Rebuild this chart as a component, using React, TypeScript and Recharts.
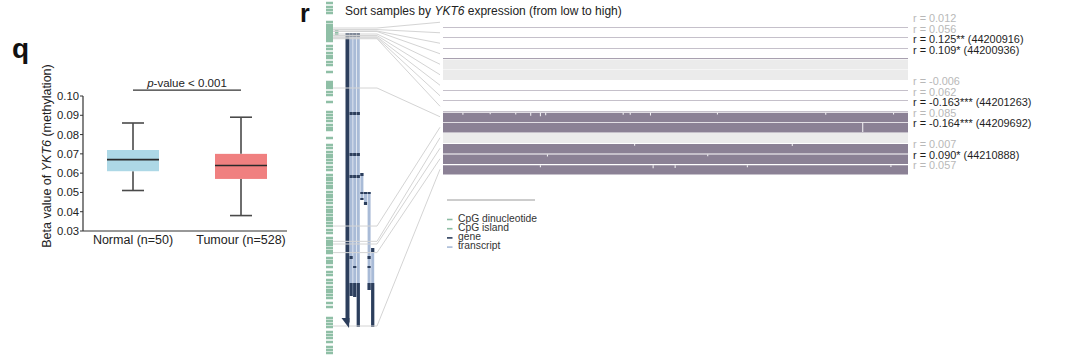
import React from 'react';
import { ComposedChart, Bar, XAxis, YAxis, ReferenceLine, ReferenceArea, Scatter } from 'recharts';

const FONT = '"Liberation Sans", Arial, Helvetica, sans-serif';

// ---------------- Panel q : box plot data ----------------
const BOX_GROUPS = ['Normal (n=50)', 'Tumour (n=528)'];
const BOX_MIN = [0.051, 0.038];
const BOX_Q1 = [0.061, 0.057];
const BOX_MEDIAN = [0.067, 0.064];
const BOX_Q3 = [0.072, 0.07];
const BOX_MAX = [0.086, 0.089];
const BOX_FILLS = ['#add8e6', '#f08080'];
const Q_TICKS = [0.03, 0.04, 0.05, 0.06, 0.07, 0.08, 0.09, 0.1];
const Q_DOMAIN = [0.03, 0.1];
const P_BAR_Y = 0.103;
const P_TEXT = '-value < 0.001';

// ---------------- Panel r : genome track data ----------------
const GENOME_START = 44199520;
const GENOME_END = 44215585;
const CPG_POSITIONS = [
  44199655, 44199835, 44199970, 44200105, 44200510, 44200645, 44200735, 44200825,
  44200915, 44201005, 44201095, 44201185, 44201275, 44201365, 44201590, 44201725,
  44201905, 44202040, 44202130, 44202310, 44202445, 44202760, 44203210, 44203300,
  44203390, 44203480, 44203660, 44203795, 44204110, 44204560, 44204695, 44204830,
  44204965, 44205145, 44205280, 44205370, 44205730, 44206045, 44206180, 44206360,
  44206495, 44206585, 44206720, 44206855, 44207035, 44207170, 44207395, 44207530,
  44207620, 44207755, 44207890, 44207980, 44208160, 44208295, 44208385, 44208520,
  44208655, 44208835, 44208970, 44209060, 44209195, 44209330, 44209420, 44209555,
  44209690, 44209870, 44210005, 44210230, 44210365, 44210455, 44210545, 44210680,
  44210815, 44210905, 44211130, 44211265, 44211355, 44211535, 44211760, 44211895,
  44212120, 44212255, 44212435, 44212570, 44212660, 44212795, 44212930, 44213155,
  44213335, 44213830, 44213965, 44214100, 44214235, 44214460, 44214595, 44214730,
  44214910, 44215135, 44215270, 44215405,
];
const CPG_ISLAND = [44200870, 44201095];
const GENE = [44201005, 44214235];
const TRANSCRIPTS = [
  { start: 44201005, end: 44212840, exons: [[44201005, 44201185], [44204560, 44204695], [44206405, 44206540], [44207395, 44207530], [44211040, 44211175], [44212255, 44212840]] },
  { start: 44201005, end: 44212885, exons: [[44201005, 44201185], [44204560, 44204695], [44206405, 44206540], [44207395, 44207530], [44211490, 44211580], [44212255, 44212885]] },
  { start: 44201005, end: 44214235, exons: [[44201005, 44201185], [44204560, 44204695], [44206405, 44206540], [44207395, 44207530], [44212255, 44214235]] },
  { start: 44207305, end: 44208520, exons: [[44207305, 44207440], [44208160, 44208250], [44208430, 44208520]] },
  { start: 44208160, end: 44208745, exons: [[44208160, 44208250], [44208610, 44208745]] },
  { start: 44208160, end: 44212570, exons: [[44208160, 44208250], [44211040, 44211175], [44211490, 44211580], [44212255, 44212570]] },
  { start: 44210680, end: 44214235, exons: [[44210680, 44210860], [44212255, 44214235]] },
];

// ---------------- Panel r : methylation rows ----------------
const N_SAMPLES = 528;
const ROW_R = ['0.012', '0.056', '0.125**', '0.109*', null, null, '-0.006', '0.062', '-0.163***', '0.085', '-0.164***', null, '0.007', '0.090*', '0.057'];
const ROW_PROBE_POS = [44200780, 44200850, 44200916, 44200936, 44201050, 44201120, 44201180, 44201220, 44201263, 44203480, 44209692, 44210380, 44210500, 44210888, 44214190];
const ROW_BETA = [0.04, 0.05, 0.05, 0.08, null, null, 0.04, 0.05, 0.05, 0.88, 0.92, null, 0.9, 0.9, 0.87];
const SIGNIFICANT_ROWS = [2, 3, 8, 10, 13];
// individual samples with visibly lower beta in the highly methylated rows
const DIP_ROW = [9, 9, 9, 9, 9, 9, 9, 9, 9, 9, 9, 9, 10, 12, 12, 13, 13, 14, 14, 14, 14, 14];
const DIP_SAMPLE = [22, 53, 82, 99, 110, 116, 204, 212, 235, 311, 434, 511, 476, 217, 396, 118, 300, 110, 238, 263, 345, 508];
const DIP_BETA = [0.7, 0.75, 0.72, 0.6, 0.55, 0.65, 0.7, 0.7, 0.62, 0.72, 0.7, 0.72, 0.05, 0.75, 0.72, 0.72, 0.74, 0.7, 0.6, 0.62, 0.7, 0.72];

const LEGEND_ITEMS = [
  { label: 'CpG dinucleotide', color: '#8cbca3' },
  { label: 'CpG island', color: '#8cbca3' },
  { label: 'gene', color: '#2c3e5c' },
  { label: 'transcript', color: '#a9bbd7' },
];

// ---------------- layout constants (styles / positions) ----------------
const R_LEFT = 300;
const R_W = 780;
const R_H = 357;
const TRK_PAD_L = 29.5;
const TRK_STEP = 3.6;
const TRK_SLOTS = 14;
const SLOT_CPG = 0;
const SLOT_LINK = 1;
const SLOT_ISLAND = 2;
const SLOT_GENE = 5;
const SLOT_TX0 = 6;
const SLOT_BEND = 13.2;
const SMP_PAD_L = 143;
const SMP_PAD_R = 172;
const ROW_PAD_T = 17;
const ROW_H = 10.5;
const ROWS = ROW_R.length;

const GREEN = '#8fbfa6';
const DARK = '#2c3e5c';
const LIGHT = '#a9bbd7';
const PURPLE = '#8b8195';

// linear maps mirroring the hidden axes (used only for link lines)
const trkX = (s: number) => TRK_PAD_L + s * TRK_STEP;
const smpX = (v: number) => SMP_PAD_L + (v / N_SAMPLES) * (R_W - SMP_PAD_L - SMP_PAD_R);
const rowY = (r: number) => ROW_PAD_T + r * ROW_H;

// robustly recover the data item behind a scatter shape
function findDatum(props: any, data: any[], key: string) {
  const p = props && props.payload;
  if (p && p[key] !== undefined) return p;
  if (props && props[key] !== undefined) return props;
  if (props && typeof props.index === 'number' && data[props.index]) return data[props.index];
  const n = props && props.node;
  if (n) {
    const f = data.find((d) => d.x === n.x && d.y === n.y);
    if (f) return f;
  }
  return null;
}

// ---------------- Panel q ----------------
const qData = BOX_GROUPS.map((name, i) => ({
  name,
  base: BOX_MIN[i],
  lowW: BOX_Q1[i] - BOX_MIN[i],
  lowBox: BOX_MEDIAN[i] - BOX_Q1[i],
  highBox: BOX_Q3[i] - BOX_MEDIAN[i],
  highW: BOX_MAX[i] - BOX_Q3[i],
}));

const WHISKER = '#4a4a4a';

function Whisker(props: any) {
  const { x, y, width, height, side } = props;
  const cx = x + width / 2;
  const capY = side === 'low' ? y + height : y;
  return (
    <g>
      <line x1={cx} x2={cx} y1={y} y2={y + height} stroke={WHISKER} strokeWidth={1.6} />
      <line x1={cx - 11} x2={cx + 11} y1={capY} y2={capY} stroke={WHISKER} strokeWidth={1.6} />
    </g>
  );
}

function BoxPart(props: any) {
  const { x, y, width, height, payload, median } = props;
  const idx = BOX_GROUPS.indexOf(payload && payload.name);
  const fill = BOX_FILLS[idx < 0 ? 0 : idx];
  return (
    <g>
      <rect x={x} y={y} width={width} height={height} fill={fill} />
      {median ? <line x1={x} x2={x + width} y1={y + height} y2={y + height} stroke="#2a2a2a" strokeWidth={1.6} /> : null}
    </g>
  );
}

const renderQYLabel = (props: any) => {
  const vb = props && props.viewBox ? props.viewBox : { x: 38, y: 96, width: 45, height: 135 };
  const cx = vb.x + 9;
  const cy = vb.y + vb.height / 2 - 7.5;
  return (
    <text x={cx} y={cy} transform={`rotate(-90 ${cx} ${cy})`} textAnchor="middle" dominantBaseline="central" fontSize={12.5} fill="#222" fontFamily={FONT}>
      Beta value of <tspan fontStyle="italic">YKT6</tspan> (methylation)
    </text>
  );
};

const renderPLabel = (props: any) => {
  const vb = props && props.viewBox ? props.viewBox : { x: 133, y: 90, width: 108, height: 0 };
  const cx = vb.x + vb.width / 2;
  return (
    <text x={cx} y={vb.y - 3.5} textAnchor="middle" fontSize={11.5} fill="#222" fontFamily={FONT}>
      <tspan fontStyle="italic">p</tspan>{P_TEXT}
    </text>
  );
};

function PanelQ() {
  return (
    <ComposedChart width={300} height={260} data={qData} margin={{ top: 96, right: 13, bottom: 0, left: 38 }}>
      <XAxis
        dataKey="name"
        type="category"
        height={29}
        interval={0}
        tickLine={false}
        tickSize={0}
        tickMargin={4}
        padding={{ left: -4, right: -8 }}
        axisLine={{ stroke: '#333', strokeWidth: 1.2 }}
        tick={{ fontSize: 12.5, fill: '#222', fontFamily: FONT }}
      />
      <YAxis
        type="number"
        domain={Q_DOMAIN}
        allowDataOverflow
        ticks={Q_TICKS}
        tickFormatter={(v: number) => v.toFixed(2)}
        width={45}
        tickSize={3}
        tickMargin={1}
        axisLine={{ stroke: '#333', strokeWidth: 1.2 }}
        tickLine={{ stroke: '#333' }}
        tick={{ fontSize: 11.3, fill: '#222', fontFamily: FONT }}
        label={renderQYLabel}
      />
      <Bar dataKey="base" stackId="b" fill="none" barSize={52} isAnimationActive={false} />
      <Bar dataKey="lowW" stackId="b" barSize={52} isAnimationActive={false} shape={(p: any) => <Whisker {...p} side="low" />} />
      <Bar dataKey="lowBox" stackId="b" barSize={52} isAnimationActive={false} shape={(p: any) => <BoxPart {...p} />} />
      <Bar dataKey="highBox" stackId="b" barSize={52} isAnimationActive={false} shape={(p: any) => <BoxPart {...p} median />} />
      <Bar dataKey="highW" stackId="b" barSize={52} isAnimationActive={false} shape={(p: any) => <Whisker {...p} side="high" />} />
      <ReferenceLine
        segment={[{ x: BOX_GROUPS[0], y: P_BAR_Y }, { x: BOX_GROUPS[1], y: P_BAR_Y }]}
        ifOverflow="visible"
        stroke="#333"
        strokeWidth={1.2}
        label={renderPLabel}
      />
    </ComposedChart>
  );
}

// ---------------- Panel r ----------------
const cpgData = CPG_POSITIONS.map((p) => ({ x: SLOT_CPG, y: p }));
const linkData = ROW_PROBE_POS.map((p, i) => ({ x: SLOT_LINK, y: p, row: i }));
const arrowData = [{ x: SLOT_GENE, y: GENE[1] }];
const labelData = ROW_R.map((r, i) =>
  r === null
    ? null
    : {
        x: N_SAMPLES,
        y: i + 0.14,
        sig: SIGNIFICANT_ROWS.includes(i),
        text: `r = ${r}` + (SIGNIFICANT_ROWS.includes(i) ? ` (${ROW_PROBE_POS[i]})` : ''),
      }
).filter(Boolean) as any[];

function CpgTick(props: any) {
  const { cx, cy } = props;
  return <rect x={cx - 3.5} y={cy - 1.25} width={7} height={2.5} fill={GREEN} />;
}

function LinkLine(props: any) {
  const { cx, cy } = props;
  const d = findDatum(props, linkData, 'row');
  if (!d) return <g />;
  const bendX = trkX(SLOT_BEND);
  const endX = smpX(0) - 3;
  const endY = rowY(d.row + 0.5);
  return <polyline points={`${cx},${cy} ${bendX},${cy} ${endX},${endY}`} fill="none" stroke="#d4d4d4" strokeWidth={1} />;
}

function GeneArrow(props: any) {
  const { cx, cy } = props;
  return <polygon points={`${cx - 6},${cy - 9} ${cx + 2},${cy - 9} ${cx + 1.5},${cy + 1}`} fill={DARK} />;
}

function RowLabel(props: any) {
  const { cx, cy } = props;
  const d = findDatum(props, labelData, 'text');
  if (!d) return <g />;
  return (
    <text x={cx + 5} y={cy} dominantBaseline="central" fontSize={10.9} fontFamily={FONT} fill={d.sig ? '#1e1e1e' : '#b8b8b8'}>
      {d.text}
    </text>
  );
}

function PanelR() {
  const seg = (slot: number, a: number, b: number) => [
    { x: slot, y: a },
    { x: slot, y: b },
  ];
  return (
    <ComposedChart width={R_W} height={R_H} margin={{ top: 0, right: 0, bottom: 0, left: 0 }}>
      <XAxis xAxisId="trk" dataKey="x" type="number" hide domain={[0, TRK_SLOTS]} padding={{ left: TRK_PAD_L, right: R_W - TRK_PAD_L - TRK_STEP * TRK_SLOTS }} />
      <XAxis xAxisId="smp" dataKey="x" type="number" hide domain={[0, N_SAMPLES]} padding={{ left: SMP_PAD_L, right: SMP_PAD_R }} />
      <YAxis yAxisId="g" dataKey="y" type="number" hide reversed domain={[GENOME_START, GENOME_END]} />
      <YAxis yAxisId="row" dataKey="y" type="number" hide reversed domain={[0, ROWS]} padding={{ top: ROW_PAD_T, bottom: R_H - ROW_PAD_T - ROWS * ROW_H }} />

      <Scatter xAxisId="trk" yAxisId="g" data={linkData} shape={(p: any) => <LinkLine {...p} />} isAnimationActive={false} />

      {ROW_BETA.map((b, i) =>
        b === null ? (
          <ReferenceArea key={`na${i}`} xAxisId="smp" yAxisId="row" x1={0} x2={N_SAMPLES} y1={i + 0.04} y2={i + 1} fill="#ebebeb" fillOpacity={1} stroke="none" ifOverflow="visible" />
        ) : (
          <ReferenceArea key={`rw${i}`} xAxisId="smp" yAxisId="row" x1={0} x2={N_SAMPLES} y1={i + 1 - b} y2={i + 1} fill={PURPLE} fillOpacity={1} stroke="none" ifOverflow="visible" />
        )
      )}
      {DIP_ROW.map((r, k) => {
        const top = r + 1 - (ROW_BETA[r] as number);
        return (
          <ReferenceArea
            key={`dip${k}`}
            xAxisId="smp"
            yAxisId="row"
            x1={DIP_SAMPLE[k]}
            x2={DIP_SAMPLE[k] + 1.2}
            y1={top - 0.01}
            y2={r + 1 - DIP_BETA[k]}
            fill="#ffffff"
            fillOpacity={0.9}
            stroke="none"
            ifOverflow="visible"
          />
        );
      })}

      <Scatter xAxisId="trk" yAxisId="g" data={cpgData} shape={(p: any) => <CpgTick {...p} />} isAnimationActive={false} />
      <ReferenceLine xAxisId="trk" yAxisId="g" segment={seg(SLOT_ISLAND, CPG_ISLAND[0], CPG_ISLAND[1])} stroke={GREEN} strokeWidth={3.5} ifOverflow="visible" />
      <ReferenceLine xAxisId="trk" yAxisId="g" segment={seg(SLOT_GENE, GENE[0], GENE[1] - 200)} stroke={DARK} strokeWidth={4} ifOverflow="visible" />
      <Scatter xAxisId="trk" yAxisId="g" data={arrowData} shape={(p: any) => <GeneArrow {...p} />} isAnimationActive={false} />
      {TRANSCRIPTS.map((t, i) => (
        <ReferenceLine key={`tx${i}`} xAxisId="trk" yAxisId="g" segment={seg(SLOT_TX0 + i, t.start, t.end)} stroke={LIGHT} strokeWidth={3} ifOverflow="visible" />
      ))}
      {TRANSCRIPTS.map((t, i) =>
        t.exons.map((e, j) => (
          <ReferenceLine key={`ex${i}-${j}`} xAxisId="trk" yAxisId="g" segment={seg(SLOT_TX0 + i, e[0], e[1])} stroke={DARK} strokeWidth={3.2} ifOverflow="visible" />
        ))
      )}

      <Scatter xAxisId="smp" yAxisId="row" data={labelData} shape={(p: any) => <RowLabel {...p} />} isAnimationActive={false} />
    </ComposedChart>
  );
}

export default function App() {
  return (
    <div style={{ position: 'absolute', left: 0, top: 0, width: 1080, height: 357, background: '#fff', overflow: 'hidden', fontFamily: FONT }}>
      <div style={{ position: 'absolute', left: 0, top: 0 }}>
        <PanelQ />
      </div>
      <div style={{ position: 'absolute', left: R_LEFT, top: 0 }}>
        <PanelR />
      </div>
      <svg width={1080} height={357} style={{ position: 'absolute', left: 0, top: 0, pointerEvents: 'none' }}>
        <text x={12} y={57.5} fontSize={28} fontWeight="bold" fontFamily={FONT} fill="#111">q</text>
        <text x={300} y={22} fontSize={25} fontWeight="bold" fontFamily={FONT} fill="#111">r</text>
        <text x={345} y={15} fontSize={12} fontFamily={FONT} fill="#222">
          Sort samples by <tspan fontStyle="italic">YKT6</tspan> expression (from low to high)
        </text>
        <line x1={447} x2={535} y1={200} y2={200} stroke="#9a9a9a" strokeWidth={1} />
        {LEGEND_ITEMS.map((it, i) => (
          <g key={it.label}>
            <line x1={447} x2={452.5} y1={219.5 + 9.2 * i} y2={219.5 + 9.2 * i} stroke={it.color} strokeWidth={1.6} />
            <text x={458} y={218 + 9.2 * i} dominantBaseline="central" fontSize={10.3} fontFamily={FONT} fill="#333">
              {it.label}
            </text>
          </g>
        ))}
      </svg>
    </div>
  );
}
